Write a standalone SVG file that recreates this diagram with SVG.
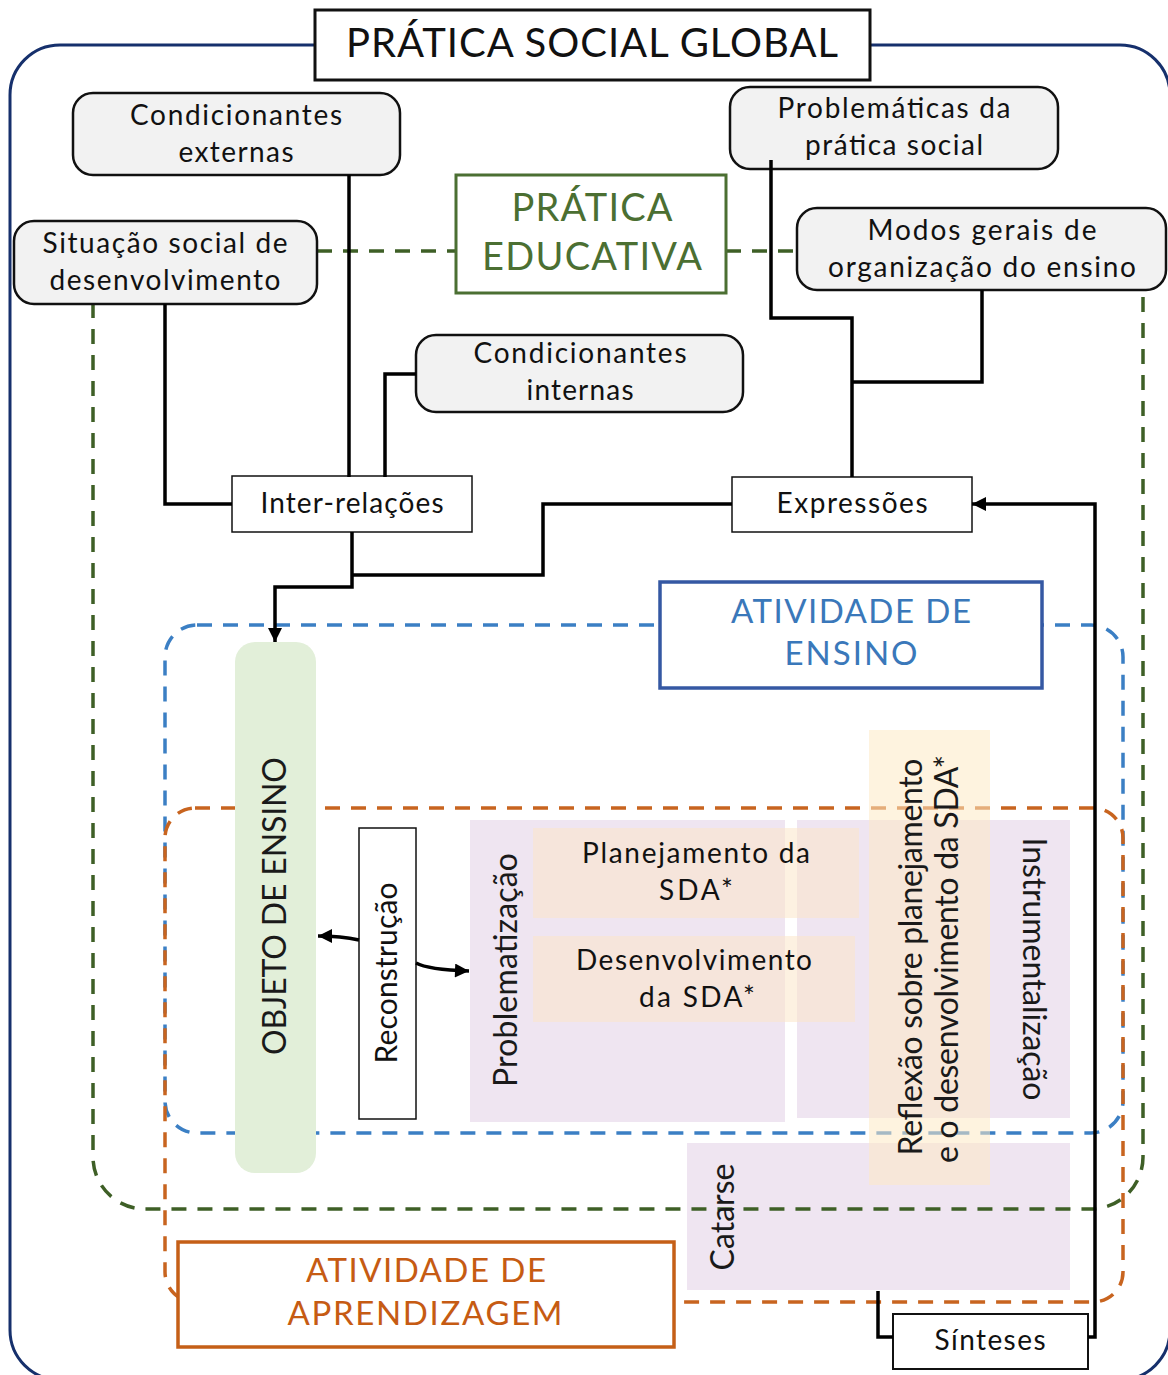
<svg xmlns="http://www.w3.org/2000/svg" width="1168" height="1375" viewBox="0 0 1168 1375">
<defs>
<style>
text{font-family:Lato,"Noto Sans","Liberation Sans",sans-serif;text-anchor:middle;fill:#111}
.rbox{fill:#f2f2f2;stroke:#111;stroke-width:2.5}
.sbox{fill:#fff;stroke:#111;stroke-width:1.5}
.n{font-size:28px}
.v{font-size:32px;fill:#1a1a1a}
.conn{fill:none;stroke:#000;stroke-width:3.5}
.dash{fill:none;stroke-width:3.5;stroke-dasharray:15 11}
.lav{fill:#efe5f1}
.peach{fill:#fbe5c9;opacity:.55}
.cream{fill:#fde9c4;opacity:.55}
</style>
<marker id="ah" viewBox="0 0 10 10" refX="10" refY="5" markerWidth="15" markerHeight="14" markerUnits="userSpaceOnUse" orient="auto"><path d="M0,0L10,5L0,10z" fill="#000"/></marker>
</defs>

<g id="containers">
<rect id="pratica-social-frame" x="10" y="45" width="1160" height="1335" rx="50" fill="none" stroke="#16306c" stroke-width="3"/>
<rect id="atividade-ensino-frame" class="dash" stroke="#3b7fc4" x="165" y="625" width="958" height="508" rx="32"/>
<rect id="atividade-aprendizagem-frame" class="dash" stroke="#c8641f" x="165" y="808" width="958" height="494" rx="30"/>
</g>

<g id="panels">
<rect id="problematizacao-panel" class="lav" x="470" y="820" width="315" height="302"/>
<rect id="instrumentalizacao-panel" class="lav" x="797" y="820" width="273" height="298"/>
<rect id="catarse-panel" class="lav" x="687" y="1143" width="383" height="147"/>
<rect class="peach" x="533" y="828" width="326" height="90"/>
<rect class="peach" x="533" y="936" width="322" height="86"/>
<rect id="objeto-pill" x="235" y="642" width="81" height="531" rx="20" fill="#e2efd9"/>
<rect class="cream" x="869" y="730" width="121" height="455"/>
</g>

<g id="educativa-frame">
<path id="pratica-educativa-frame" class="dash" stroke="#3e5f26" d="M93,251 V1157 A52,52 0 0 0 145,1209 H1091 A52,52 0 0 0 1143,1157 V251"/>
<path class="dash" stroke="#3e5f26" d="M317,251 H456 M726,251 H797"/>
</g>

<g id="nodes">
<g id="n-pratica-social-global">
<rect x="315" y="10" width="555" height="70" fill="#fff" stroke="#111" stroke-width="3"/>
<text x="592" y="57" font-size="40" textLength="492">PRÁTICA SOCIAL GLOBAL</text>
</g>
<g id="n-condicionantes-externas">
<rect class="rbox" x="73" y="93" width="327" height="82" rx="20"/>
<text class="n" x="236" y="125" textLength="212">Condicionantes</text>
<text class="n" x="236" y="162" textLength="115">externas</text>
</g>
<g id="n-situacao-social">
<rect class="rbox" x="14" y="221" width="303" height="83" rx="20"/>
<text class="n" x="165" y="253" textLength="245">Situação social de</text>
<text class="n" x="165" y="290" textLength="231">desenvolvimento</text>
</g>
<g id="n-pratica-educativa">
<rect x="456" y="175" width="270" height="118" fill="#fff" stroke="#4b6f32" stroke-width="3"/>
<text x="592" y="221" font-size="38" style="fill:#4b6f32" textLength="161">PRÁTICA</text>
<text x="592" y="270" font-size="38" style="fill:#4b6f32" textLength="220">EDUCATIVA</text>
</g>
<g id="n-problematicas">
<rect class="rbox" x="730" y="87" width="328" height="82" rx="20"/>
<text class="n" x="894" y="118" textLength="233">Problemáticas da</text>
<text class="n" x="894" y="155" textLength="178">prática social</text>
</g>
<g id="n-modos-gerais">
<rect class="rbox" x="797" y="208" width="369" height="82" rx="20"/>
<text class="n" x="982" y="240" textLength="229">Modos gerais de</text>
<text class="n" x="982" y="277" textLength="308">organização do ensino</text>
</g>
<g id="n-condicionantes-internas">
<rect class="rbox" x="416" y="335" width="327" height="77" rx="20"/>
<text class="n" x="580" y="363" textLength="213">Condicionantes</text>
<text class="n" x="580" y="400" textLength="107">internas</text>
</g>
<g id="n-inter-relacoes">
<rect class="sbox" x="232" y="476" width="240" height="56"/>
<text class="n" x="352" y="513" textLength="183">Inter-relações</text>
</g>
<g id="n-expressoes">
<rect class="sbox" x="732" y="477" width="240" height="55"/>
<text class="n" x="852" y="513" textLength="151">Expressões</text>
</g>
<g id="n-atividade-ensino">
<rect x="660" y="582" width="382" height="106" fill="#fff" stroke="#3558a3" stroke-width="3.5"/>
<text x="851" y="623" font-size="33" style="fill:#3a78ba" textLength="240">ATIVIDADE DE</text>
<text x="851" y="665" font-size="33" style="fill:#3a78ba" textLength="133">ENSINO</text>
</g>
<g id="n-objeto-ensino">
<text class="v" transform="translate(286,906) rotate(-90)" textLength="298">OBJETO DE ENSINO</text>
</g>
<g id="n-reconstrucao">
<rect class="sbox" x="359" y="828" width="57" height="291"/>
<text transform="translate(397,973) rotate(-90)" font-size="30" textLength="181">Reconstrução</text>
</g>
<g id="n-problematizacao">
<text class="v" transform="translate(517,970) rotate(-90)" textLength="234">Problematização</text>
</g>
<g id="n-planejamento">
<text class="n" x="696" y="863" textLength="228">Planejamento da</text>
<text class="n" x="696" y="900" textLength="74">SDA*</text>
</g>
<g id="n-desenvolvimento">
<text class="n" x="694" y="970" textLength="236">Desenvolvimento</text>
<text class="n" x="697" y="1007" textLength="116">da SDA*</text>
</g>
<g id="n-reflexao">
<text class="v" transform="translate(922,957) rotate(-90)" textLength="397">Reflexão sobre planejamento</text>
<text class="v" transform="translate(958,959) rotate(-90)" textLength="408">e o desenvolvimento da SDA*</text>
</g>
<g id="n-instrumentalizacao">
<text class="v" transform="translate(1023,969) rotate(90)" textLength="263">Instrumentalização</text>
</g>
<g id="n-catarse">
<text class="v" transform="translate(734,1217) rotate(-90)" textLength="107">Catarse</text>
</g>
<g id="n-atividade-aprendizagem">
<rect x="178" y="1242" width="496" height="105" fill="#fff" stroke="#c55f17" stroke-width="3.5"/>
<text x="426" y="1282" font-size="33" style="fill:#c65b13" textLength="240">ATIVIDADE DE</text>
<text x="425" y="1325" font-size="33" style="fill:#c65b13" textLength="275">APRENDIZAGEM</text>
</g>
<g id="n-sinteses">
<rect x="893" y="1314" width="195" height="55" fill="#fff" stroke="#111" stroke-width="2"/>
<text class="n" x="990" y="1350" textLength="111">Sínteses</text>
</g>
</g>

<g id="connectors">
<path class="conn" d="M349,175 V477"/>
<path class="conn" d="M165,304 V504 H232"/>
<path class="conn" d="M416,374 H385 V477"/>
<path class="conn" d="M352,532 V587 H275 V642" marker-end="url(#ah)"/>
<path class="conn" d="M732,504 H543 V575 H352"/>
<path class="conn" d="M771,160 V318 H852 V477"/>
<path class="conn" d="M982,290 V382 H852"/>
<path class="conn" d="M1088,1337 H1095 V504 H972" marker-end="url(#ah)"/>
<path class="conn" d="M878,1291 V1337 H893"/>
<path class="conn" stroke-width="3" d="M359,940 C350,938 340,936 318,936" marker-end="url(#ah)"/>
<path class="conn" stroke-width="3" d="M416,963 C425,968 440,970 469,971" marker-end="url(#ah)"/>
</g>
</svg>
